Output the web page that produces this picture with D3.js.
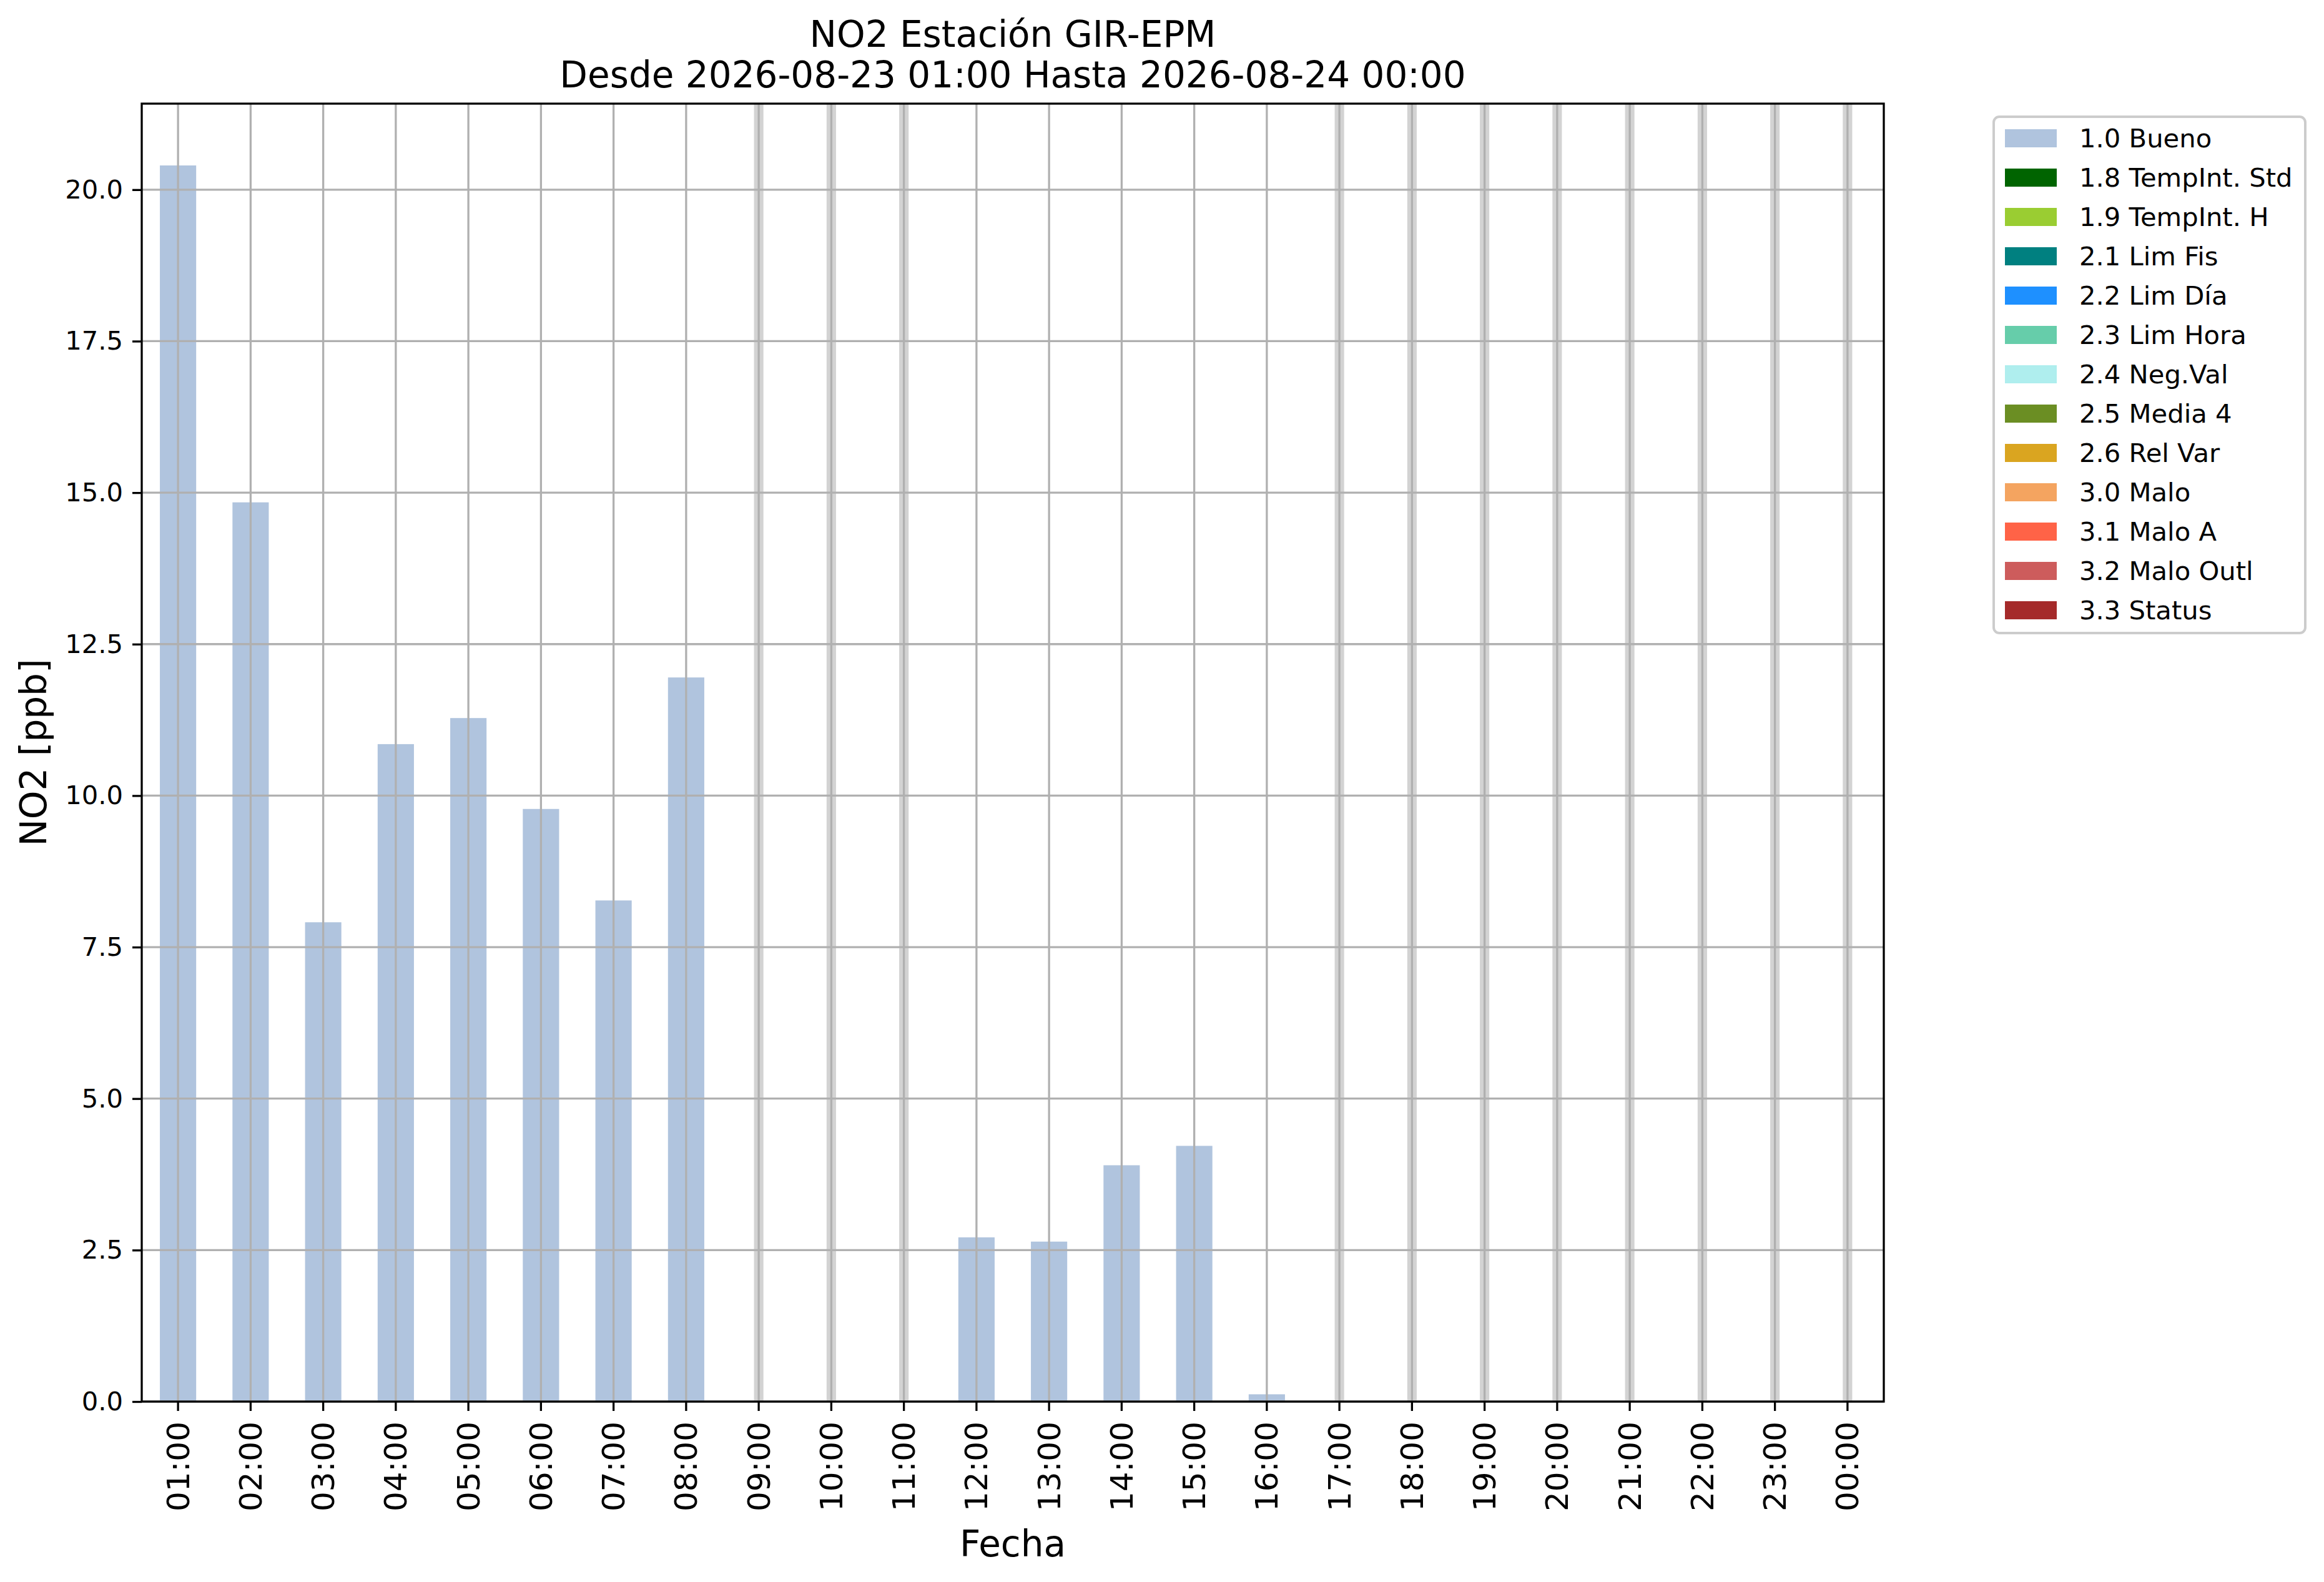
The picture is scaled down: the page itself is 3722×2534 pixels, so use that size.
<!DOCTYPE html>
<html>
<head>
<meta charset="utf-8">
<script src="https://cdn.jsdelivr.net/npm/d3@7"></script>
<style>
    body { margin: 0; background: #fff; }
    text { font-family: "DejaVu Sans", sans-serif; }
</style>
</head>
<body>
<div id="chart"></div>
<script>
// hourly NO2 values, null = no data for that hour
const hours = ["01:00", "02:00", "03:00", "04:00", "05:00", "06:00", "07:00", "08:00",
               "09:00", "10:00", "11:00", "12:00", "13:00", "14:00", "15:00", "16:00",
               "17:00", "18:00", "19:00", "20:00", "21:00", "22:00", "23:00", "00:00"];
const no2Values = [20.40, 14.84, 7.91, 10.85, 11.28, 9.78, 8.27, 11.95,
                   null, null, null, 2.71, 2.64, 3.90, 4.22, 0.12,
                   null, null, null, null, null, null, null, null];
const yTicks = [0, 2.5, 5, 7.5, 10, 12.5, 15, 17.5, 20];
const legendLabels = ["1.0 Bueno", "1.8 TempInt. Std", "1.9 TempInt. H", "2.1 Lim Fis", "2.2 Lim Día",
                      "2.3 Lim Hora", "2.4 Neg.Val", "2.5 Media 4", "2.6 Rel Var", "3.0 Malo",
                      "3.1 Malo A", "3.2 Malo Outl", "3.3 Status"];
const legendColors = ["#b0c4de", "#006400", "#9acd32", "#008080", "#1e90ff",
                      "#66cdaa", "#afeeee", "#6b8e23", "#daa520", "#f4a460",
                      "#ff6347", "#cd5c5c", "#a52a2a"];
const titleLines = ["NO2 Estación GIR-EPM", "Desde 2026-08-23 01:00 Hasta 2026-08-24 00:00"];

function init() {
    const width = 3722;
    const height = 2534;
    const plot = { left: 227, right: 3017, top: 166, bottom: 2245 };
    const lw = 3.3; // 0.8pt at 300 dpi

    const svg = d3.select("#chart")
                  .append("svg")
                  .attr("width", width)
                  .attr("height", height);

    const data = hours.map((h, i) => ({ hour: h, value: no2Values[i] }));

    const x = d3.scaleBand()
                .domain(hours)
                .range([plot.left, plot.right])
                .padding(0);

    const y = d3.scaleLinear()
                .domain([0, d3.max(no2Values) * 1.05])
                .range([plot.bottom, plot.top]);

    // bars
    const barW = x.bandwidth() * 0.5;
    svg.append("g")
       .selectAll("rect")
       .data(data.filter(d => d.value !== null))
       .enter()
       .append("rect")
       .attr("x", d => x(d.hour) + x.bandwidth() / 2 - barW / 2)
       .attr("y", d => y(d.value))
       .attr("width", barW)
       .attr("height", d => y(0) - y(d.value))
       .style("fill", legendColors[0]);

    // light grey marks where there is no data
    const gapW = x.bandwidth() * 0.13;
    svg.append("g")
       .selectAll("rect")
       .data(data.filter(d => d.value === null))
       .enter()
       .append("rect")
       .attr("x", d => x(d.hour) + x.bandwidth() / 2 - gapW / 2)
       .attr("y", plot.top)
       .attr("width", gapW)
       .attr("height", plot.bottom - plot.top)
       .style("fill", "#d3d3d3");

    // grid
    const grid = svg.append("g").style("stroke", "#b0b0b0").style("stroke-width", lw);
    grid.selectAll("line.v")
        .data(hours)
        .enter()
        .append("line")
        .attr("x1", d => x(d) + x.bandwidth() / 2)
        .attr("x2", d => x(d) + x.bandwidth() / 2)
        .attr("y1", plot.top)
        .attr("y2", plot.bottom);
    grid.selectAll("line.h")
        .data(yTicks)
        .enter()
        .append("line")
        .attr("x1", plot.left)
        .attr("x2", plot.right)
        .attr("y1", d => y(d))
        .attr("y2", d => y(d));

    // axes
    const xAxis = svg.append("g")
                     .attr("transform", `translate(0,${plot.bottom})`)
                     .call(d3.axisBottom(x).tickSize(15).tickSizeOuter(0));
    xAxis.select(".domain").remove();
    xAxis.selectAll("line").style("stroke", "#000").style("stroke-width", lw);
    xAxis.selectAll("text")
         .attr("transform", "rotate(-90)")
         .attr("text-anchor", "end")
         .attr("x", -32)
         .attr("y", 0)
         .attr("dy", "0.35em")
         .style("font-family", "DejaVu Sans")
         .style("font-size", "50px")
         .style("fill", "#000");

    const yAxis = svg.append("g")
                     .attr("transform", `translate(${plot.left},0)`)
                     .call(d3.axisLeft(y)
                             .tickValues(yTicks)
                             .tickFormat(d3.format(".1f"))
                             .tickSize(15)
                             .tickSizeOuter(0)
                             .tickPadding(15));
    yAxis.select(".domain").remove();
    yAxis.selectAll("line").style("stroke", "#000").style("stroke-width", lw);
    yAxis.selectAll("text")
         .style("font-family", "DejaVu Sans")
         .style("font-size", "41.7px")
         .style("fill", "#000");

    // spines
    svg.append("rect")
       .attr("x", plot.left)
       .attr("y", plot.top)
       .attr("width", plot.right - plot.left)
       .attr("height", plot.bottom - plot.top)
       .style("fill", "none")
       .style("stroke", "#000")
       .style("stroke-width", lw);

    // titles and axis labels
    svg.append("g")
       .selectAll("text")
       .data(titleLines)
       .enter()
       .append("text")
       .attr("x", (plot.left + plot.right) / 2)
       .attr("y", (d, i) => 75 + i * 65)
       .attr("text-anchor", "middle")
       .style("font-size", "58px")
       .text(d => d);

    svg.append("text")
       .attr("x", (plot.left + plot.right) / 2)
       .attr("y", 2493)
       .attr("text-anchor", "middle")
       .style("font-size", "58px")
       .text("Fecha");

    svg.append("text")
       .attr("transform", `translate(74,${(plot.top + plot.bottom) / 2}) rotate(-90)`)
       .attr("text-anchor", "middle")
       .style("font-size", "58px")
       .text("NO2 [ppb]");

    // legend
    const legend = svg.append("g");
    legend.append("rect")
          .attr("x", 3193)
          .attr("y", 187)
          .attr("width", 499)
          .attr("height", 827)
          .attr("rx", 9)
          .style("fill", "#fff")
          .style("stroke", "#cccccc")
          .style("stroke-width", 4);

    const rows = legend.selectAll("g.row")
                       .data(legendLabels)
                       .enter()
                       .append("g")
                       .attr("transform", (d, i) => `translate(3211,${221.5 + i * 63})`);
    rows.append("rect")
        .attr("x", 0)
        .attr("y", -14.5)
        .attr("width", 83)
        .attr("height", 29)
        .style("fill", (d, i) => legendColors[i]);
    rows.append("text")
        .attr("x", 119)
        .attr("dy", "0.35em")
        .style("font-size", "41.7px")
        .text(d => d);
}

window.onload = init;
</script>
</body>
</html>
